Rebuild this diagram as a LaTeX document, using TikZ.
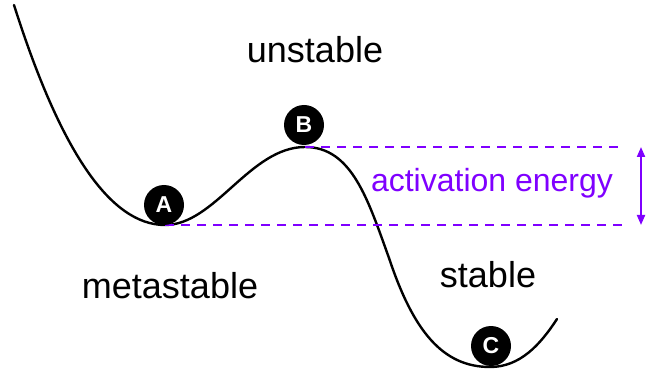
\documentclass[tikz,border=0pt]{standalone}
\usepackage{fontspec}
\setmainfont{Liberation Sans}
\usetikzlibrary{arrows.meta}
\definecolor{actv}{RGB}{127,0,255}
\tikzset{
  ball/.style={circle,fill=black,text=white,minimum size=40pt,inner sep=0pt,font=\fontsize{23}{23}\selectfont\bfseries},
  lbl/.style={anchor=base,font=\fontsize{36}{40}\selectfont},
  elbl/.style={anchor=base,text=actv,font=\fontsize{32}{36}\selectfont},
  level/.style={draw=actv,line width=2.4pt,dash pattern=on 9pt off 7pt},
  curve/.style={draw=black,line width=2.4pt,line cap=round}
}
\begin{document}
\begin{tikzpicture}[x=1pt,y=-1pt]
\useasboundingbox (0,0) rectangle (647,371);
\coordinate (start) at (14,5);
\coordinate (minA) at (165,225);
\coordinate (maxB) at (305,147);
\coordinate (mid) at (389,258);
\coordinate (minC) at (490,367);
\coordinate (stop) at (557,319);
\coordinate (topend) at (625,147);
\coordinate (botend) at (625,225);
\coordinate (arrtop) at (641,147);
\coordinate (arrbot) at (641,225);
\path[curve] (start) .. controls (60,150) and (110,225) .. (minA)
  .. controls (215,225) and (250,147) .. (maxB)
  .. controls (352,147) and (368,200) .. (mid)
  .. controls (413,330) and (442,367) .. (minC)
  .. controls (520,367) and (540,345) .. (stop);
\path[level] (minA) -- (botend);
\path[level] (maxB) -- (topend);
\draw[actv,line width=2pt,{Triangle[width=8pt,length=10pt]}-{Triangle[width=8pt,length=10pt]}] (arrtop) -- (arrbot);
\node[ball] (A) at (164,205) {A};
\node[ball] (B) at (304,125) {B};
\node[ball] (C) at (491,346) {C};
\node[lbl] (unst) at (315,63) {unstable};
\node[lbl] (meta) at (170,298) {metastable};
\node[lbl] (stab) at (488,287) {stable};
\node[elbl] (act) at (492,192) {activation energy};
\end{tikzpicture}
\end{document}
